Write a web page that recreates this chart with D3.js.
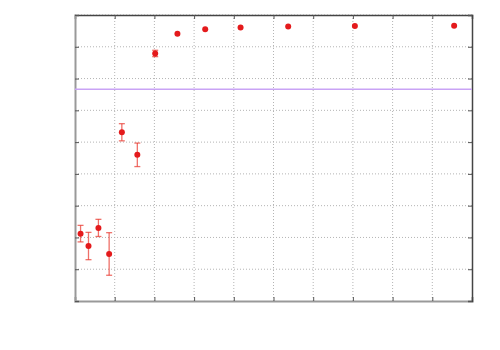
<!DOCTYPE html>
<html lang="en">
<head>
<meta charset="utf-8">
<title>Points with error bars</title>
<script src="https://cdn.jsdelivr.net/npm/d3@7"></script>
<style>
  body { margin: 0; background: #fff; }
  svg { display: block; }
</style>
</head>
<body>
<script>
// data
var xVals = [0.14, 0.34, 0.59, 0.86, 1.18, 1.57, 2.02, 2.58, 3.28, 4.17, 5.37, 7.05, 9.55];
var yVals = [2.12, 1.73, 2.30, 1.48, 5.31, 4.60, 7.79, 8.41, 8.55, 8.61, 8.64, 8.65, 8.66];
var yErr  = [0.26, 0.43, 0.27, 0.67, 0.27, 0.37, 0.10, 0, 0, 0, 0, 0, 0];
var refLevel = 6.66;
var xTicks = [0, 1, 2, 3, 4, 5, 6, 7, 8, 9, 10];
var yTicks = [0, 1, 2, 3, 4, 5, 6, 7, 8, 9];

var w = 500, h = 350;
var margin = {top: 15, right: 28, bottom: 49, left: 75};

var svg = d3.select("body").append("svg")
    .attr("width", w)
    .attr("height", h);

var x = d3.scaleLinear().domain([0, 10]).range([margin.left, w - margin.right]);
var y = d3.scaleLinear().domain([0, 9]).range([h - margin.bottom, margin.top]);

// grid
svg.append("g").selectAll("line")
    .data(xTicks.slice(1, -1))
    .enter().append("line")
    .attr("x1", function(d) { return x(d); })
    .attr("x2", function(d) { return x(d); })
    .attr("y1", y(0)).attr("y2", y(9))
    .attr("stroke", "#b4b4b4")
    .attr("stroke-dasharray", "1,2");

svg.append("g").selectAll("line")
    .data(yTicks.slice(1))
    .enter().append("line")
    .attr("y1", function(d) { return y(d); })
    .attr("y2", function(d) { return y(d); })
    .attr("x1", x(0)).attr("x2", x(10))
    .attr("stroke", "#b4b4b4")
    .attr("stroke-dasharray", "1,2");

// axes with inward ticks, no labels
var axB = d3.axisBottom(x).tickValues(xTicks).tickSize(-4).tickFormat("");
var axT = d3.axisTop(x).tickValues(xTicks).tickSize(-4).tickFormat("");
var axL = d3.axisLeft(y).tickValues(yTicks).tickSize(-4).tickFormat("");
var axR = d3.axisRight(y).tickValues(yTicks).tickSize(-4).tickFormat("");

function styleAxis(g, col, wd) {
  g.select(".domain").attr("stroke", col).attr("stroke-width", wd);
  g.selectAll(".tick line").attr("stroke", "#555");
}

svg.append("g").attr("transform", "translate(0," + y(0) + ")").call(axB)
   .call(styleAxis, "#999", 2);
svg.append("g").attr("transform", "translate(0," + y(9) + ")").call(axT)
   .call(styleAxis, "#444", 1.5);
svg.append("g").attr("transform", "translate(" + x(0) + ",0)").call(axL)
   .call(styleAxis, "#999", 2);
svg.append("g").attr("transform", "translate(" + x(10) + ",0)").call(axR)
   .call(styleAxis, "#444", 1.5);

// reference line
svg.append("line")
    .attr("x1", x(0)).attr("x2", x(10))
    .attr("y1", y(refLevel)).attr("y2", y(refLevel))
    .attr("stroke", "#c9a3f5")
    .attr("stroke-width", 1.5);

var pts = xVals.map(function(d, i) { return {x: d, y: yVals[i], e: yErr[i]}; });

// error bars
var eb = svg.append("g").selectAll("g")
    .data(pts.filter(function(d) { return d.e > 0; }))
    .enter().append("g")
    .attr("stroke", "#e8332a")
    .attr("stroke-opacity", 0.7)
    .attr("stroke-width", 1.3);

eb.append("line")
    .attr("x1", function(d) { return x(d.x); })
    .attr("x2", function(d) { return x(d.x); })
    .attr("y1", function(d) { return y(d.y - d.e); })
    .attr("y2", function(d) { return y(d.y + d.e); });
eb.append("line")
    .attr("x1", function(d) { return x(d.x) - 3; })
    .attr("x2", function(d) { return x(d.x) + 3; })
    .attr("y1", function(d) { return y(d.y - d.e); })
    .attr("y2", function(d) { return y(d.y - d.e); });
eb.append("line")
    .attr("x1", function(d) { return x(d.x) - 3; })
    .attr("x2", function(d) { return x(d.x) + 3; })
    .attr("y1", function(d) { return y(d.y + d.e); })
    .attr("y2", function(d) { return y(d.y + d.e); });

// points
svg.append("g").selectAll("circle")
    .data(pts)
    .enter().append("circle")
    .attr("cx", function(d) { return x(d.x); })
    .attr("cy", function(d) { return y(d.y); })
    .attr("r", 3)
    .attr("fill", "#e41a1c");
</script>
</body>
</html>
